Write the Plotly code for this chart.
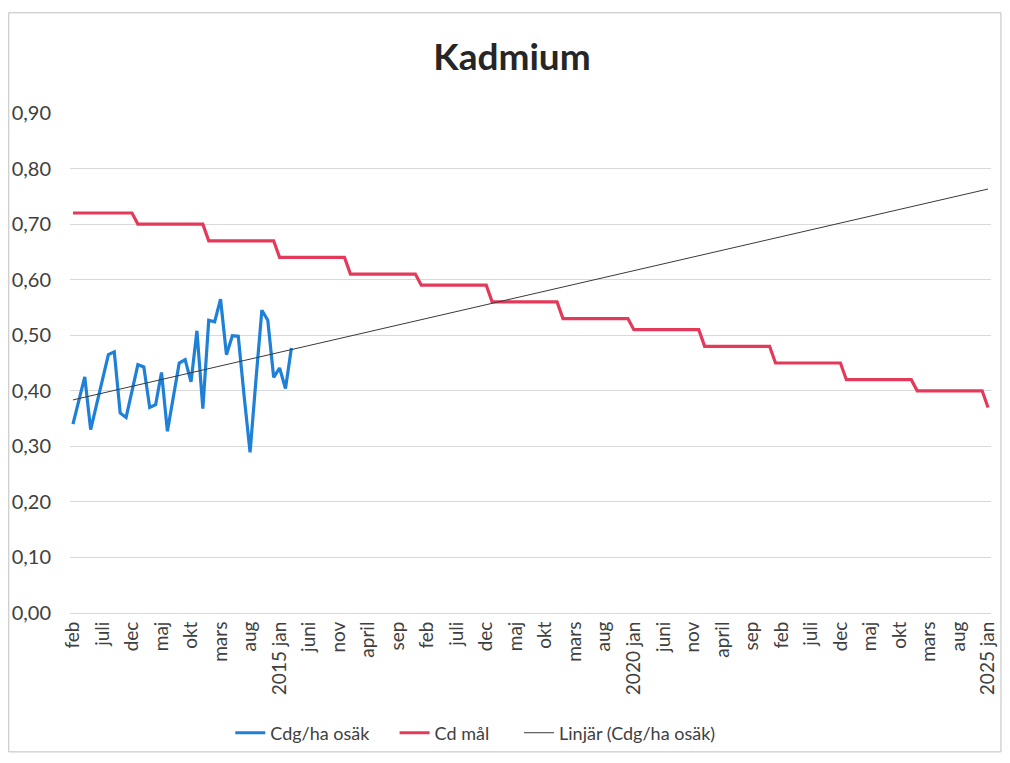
import numpy as np
import plotly.graph_objects as go

# ---- data ----
month_names = ["jan", "feb", "mars", "april", "maj", "juni",
               "juli", "aug", "sep", "okt", "nov", "dec"]
start_year, start_month = 2012, 2      # first category: feb 2012
n_months = 156                         # feb 2012 .. jan 2025

cdg_ha_osak = [0.34, 0.38, 0.425, 0.33, 0.375, 0.42, 0.465, 0.47, 0.36, 0.352,
               0.40, 0.447, 0.443, 0.37, 0.375, 0.433, 0.327, 0.39, 0.45, 0.456,
               0.416, 0.508, 0.368, 0.527, 0.524, 0.565, 0.465, 0.499, 0.498, 0.39,
               0.289, 0.42, 0.545, 0.527, 0.424, 0.441, 0.404, 0.477]

target_years = [2012, 2013, 2014, 2015, 2016, 2017, 2018, 2019, 2020,
                2021, 2022, 2023, 2024, 2025]
target_values = [0.72, 0.70, 0.67, 0.64, 0.61, 0.59, 0.56, 0.53, 0.51,
                 0.48, 0.45, 0.42, 0.40, 0.37]

tick_labels = ["feb", "juli", "dec", "maj", "okt", "mars", "aug", "2015 jan",
               "juni", "nov", "april", "sep", "feb", "juli", "dec", "maj",
               "okt", "mars", "aug", "2020 jan", "juni", "nov", "april", "sep",
               "feb", "juli", "dec", "maj", "okt", "mars", "aug", "2025 jan"]
tick_step = 5

y_ticks = [0.0, 0.1, 0.2, 0.3, 0.4, 0.5, 0.6, 0.7, 0.8, 0.9]

# ---- derived ----
idx = np.arange(n_months)
years = [start_year + (start_month - 1 + i) // 12 for i in idx]
target_lookup = dict(zip(target_years, target_values))
cd_mal = [target_lookup[y] for y in years]

bx = np.arange(len(cdg_ha_osak))
slope, intercept = np.polyfit(bx, np.array(cdg_ha_osak), 1)
trend = intercept + slope * idx

hover_labels = [f"{month_names[(start_month - 1 + i) % 12]} {years[i]}" for i in idx]

FONT = "Lato"
fig = go.Figure()
fig.add_trace(go.Scatter(x=bx, y=cdg_ha_osak, mode="lines", name="Cdg/ha osäk",
                         line=dict(color="#1E80D6", width=3.2), legend="legend",
                         text=hover_labels[:len(bx)]))
fig.add_trace(go.Scatter(x=idx, y=cd_mal, mode="lines", name="Cd mål",
                         line=dict(color="#E33A5C", width=3.2), legend="legend2",
                         text=hover_labels))
fig.add_trace(go.Scatter(x=idx, y=trend, mode="lines", name="Linjär (Cdg/ha osäk)",
                         line=dict(color="#3A3A3A", width=1), legend="legend3",
                         text=hover_labels))

W, H = 1010, 763
L, T = 70, 113
R = W - 995
B = H - 617
pw, ph = W - L - R, H - T - B

def px_x(p):
    return (p - L) / pw

def px_y(p):
    return (H - B - p) / ph

def legend_at(px_left):
    return dict(orientation="h", x=px_x(px_left), xanchor="left",
                y=px_y(738), yanchor="middle", bgcolor="rgba(0,0,0,0)",
                font=dict(size=18, color="#404040"), itemwidth=30)

fig.update_layout(
    width=W, height=H,
    margin=dict(l=L, r=R, t=T, b=B),
    paper_bgcolor="white", plot_bgcolor="white",
    font=dict(family=FONT, color="#404040"),
    title=dict(text="<b>Kadmium</b>", font=dict(family=FONT, size=37, color="#262626"),
               x=512 / W, xanchor="center", y=1 - 57 / H, yanchor="middle",
               xref="container", yref="container"),
    xaxis=dict(range=[-0.5, n_months - 0.5],
               tickvals=list(idx[::tick_step]), ticktext=tick_labels,
               tickangle=-90, tickfont=dict(size=19, color="#404040"),
               showgrid=False, zeroline=False, showline=True,
               linecolor="#D9D9D9", linewidth=1, ticks=""),
    yaxis=dict(range=[0, 0.9], tickvals=y_ticks,
               ticktext=[f"{v:.2f}".replace(".", ",") for v in y_ticks],
               tickfont=dict(size=20, color="#404040"),
               showgrid=True, gridcolor="#D9D9D9", gridwidth=1,
               zeroline=False, showline=False, ticks="",
               ticklabelstandoff=18),
    showlegend=True,
    legend=legend_at(231),
    legend2=legend_at(396),
    legend3=legend_at(521),
    shapes=[dict(type="rect", xref="paper", yref="paper",
                 x0=px_x(8.5), x1=px_x(1005), y0=px_y(757), y1=px_y(12),
                 line=dict(color="#BFBFBF", width=1), fillcolor="rgba(0,0,0,0)",
                 layer="below")],
)

fig.write_html("out.html", config={"displayModeBar": False},
               post_script="document.body.style.margin='0';"
                           "document.body.style.overflow='hidden';")
